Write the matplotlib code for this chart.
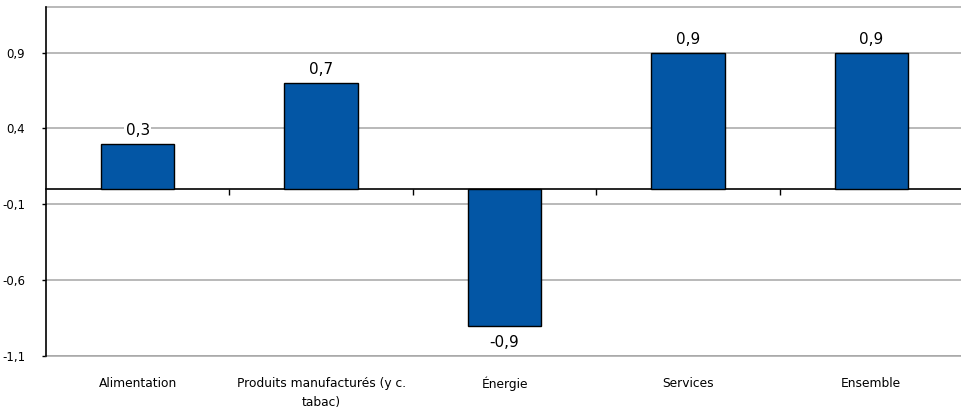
import matplotlib
matplotlib.use("Agg")
from matplotlib import pyplot as plt

# Data
categories = ["Alimentation", "Produits manufacturés (y c.\ntabac)", "Énergie", "Services", "Ensemble"]
values = [0.3, 0.7, -0.9, 0.9, 0.9]
y_ticks = [-1.1, -0.6, -0.1, 0.4, 0.9]

bar_color = "#0356A5"
grid_color = "#A6A6A6"

def fr(v):
   # French decimal comma
   return "{0:.1f}".format(v).replace(".", ",")

def main():
   plt.rcParams['font.family'] = ['DejaVu Sans']
   fig = plt.figure(figsize=(9.61, 4.12), dpi=100)
   ax = fig.add_axes([46 / 961, 1 - 356 / 412, 917 / 961, 349 / 412])

   xs = list(range(len(categories)))
   ax.bar(xs, values, width=0.4, color=bar_color, edgecolor="black", linewidth=1, zorder=3)

   # data labels above / below bars
   for x, v in zip(xs, values):
      if v >= 0:
         ax.annotate(fr(v), (x, v), xytext=(0, 4), textcoords="offset points",
                     ha="center", va="bottom", fontsize=11, zorder=4,
                     bbox=dict(facecolor="white", edgecolor="none", pad=1))
      else:
         ax.annotate(fr(v), (x, v), xytext=(0, -7), textcoords="offset points",
                     ha="center", va="top", fontsize=11, zorder=4)

   ax.set_xlim(-0.5, len(categories) - 0.5)
   ax.set_ylim(-1.1, 1.2)
   ax.set_yticks(y_ticks)
   ax.set_yticklabels([fr(t) for t in y_ticks], fontsize=8.5)
   ax.tick_params(axis="y", length=3, width=1, pad=12, color="black")
   ax.yaxis.grid(True, color=grid_color, linewidth=1.1, zorder=0)

   # category labels along the bottom border, no tick marks there
   ax.set_xticks(xs)
   ax.set_xticklabels(categories, fontsize=8.8, linespacing=1.6, va="top")
   ax.tick_params(axis="x", length=0, pad=15)

   for side in ["top", "bottom", "right"]:
      ax.spines[side].set_color(grid_color)
      ax.spines[side].set_linewidth(1.1)
   ax.spines["left"].set_color("black")
   ax.spines["left"].set_linewidth(1.2)
   ax.spines["left"].set_zorder(5)

   # category axis crossing at zero with tick marks between categories
   zero_axis = ax.secondary_xaxis(0, transform=ax.transData)
   zero_axis.set_xticks([x + 0.5 for x in xs[:-1]])
   zero_axis.set_xticklabels([])
   zero_axis.tick_params(axis="x", direction="out", length=4, width=1, color="black")
   zero_axis.spines["bottom"].set_color("black")
   zero_axis.spines["bottom"].set_linewidth(1.2)

   fig.savefig("out.png", dpi=100)

if __name__ == "__main__":
   main()
